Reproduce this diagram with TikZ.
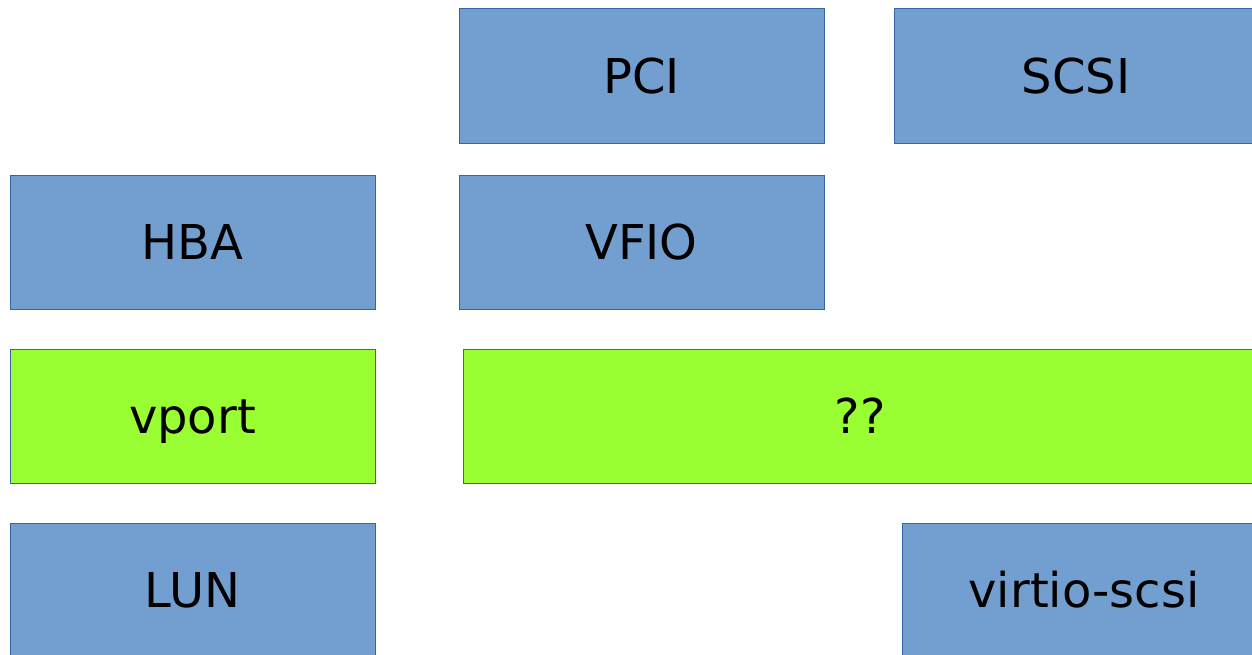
\documentclass[tikz,border=0pt]{standalone}
\usepackage{fontspec}
\setmainfont{DejaVu Sans}
\definecolor{boxblue}{HTML}{729FCF}
\definecolor{boxgreen}{HTML}{99FF33}
\definecolor{edgeblue}{HTML}{3465A4}
\begin{document}
\begin{tikzpicture}[x=1pt,y=-1pt,
  block/.style={draw=edgeblue, line width=0.8pt, inner sep=0pt, outer sep=0pt,
    font=\fontsize{48}{52}\selectfont, text=black,
    text height=35pt, text depth=0pt},
  bluebox/.style={block, fill=boxblue},
  greenbox/.style={block, fill=boxgreen}]
\clip (0,0) rectangle (1252,654);
\fill[white] (0,0) rectangle (1252,654);
% top row
\node[bluebox, minimum width=365pt, minimum height=135pt] (pci) at (641.5,75.5) {PCI};
\node[bluebox, minimum width=364pt, minimum height=135pt] (scsi) at (1076,75.5) {SCSI};
% second row
\node[bluebox, minimum width=365pt, minimum height=134pt] (hba) at (192.5,242) {HBA};
\node[bluebox, minimum width=365pt, minimum height=134pt] (vfio) at (641.5,242) {VFIO};
% third row
\node[greenbox, minimum width=365pt, minimum height=134pt] (vport) at (192.5,416) {vport};
\node[greenbox, minimum width=794pt, minimum height=134pt] (unknown) at (860,416) {??};
% bottom row
\node[bluebox, minimum width=365pt, minimum height=134pt] (lun) at (192.5,590) {LUN};
\node[bluebox, minimum width=364pt, minimum height=134pt] (virtio) at (1084,590) {virtio-scsi};
\end{tikzpicture}
\end{document}
